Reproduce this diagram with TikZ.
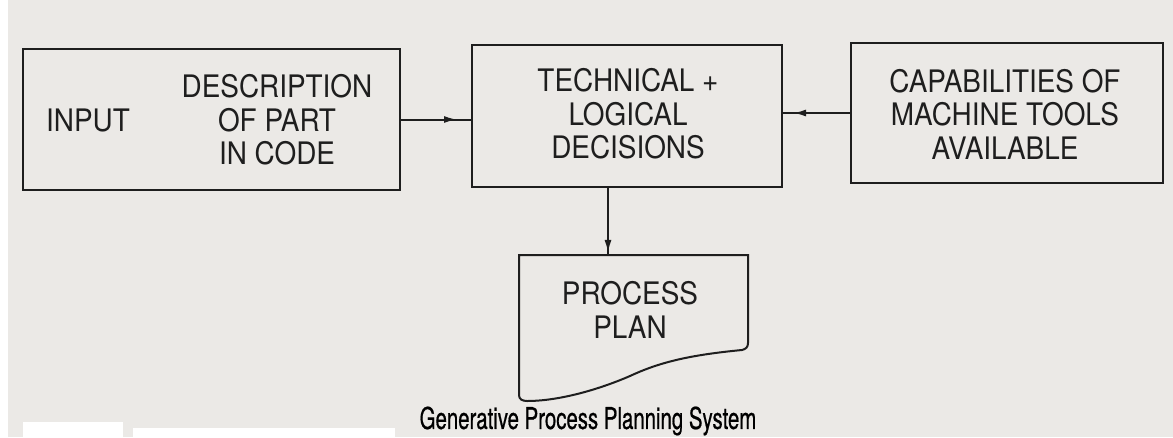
\documentclass[tikz,border=0pt]{standalone}
\usepackage{fontspec}
\usetikzlibrary{arrows.meta,decorations.markings}
\newfontfamily\boxfont{TeX Gyre Heros}[FakeStretch=0.9]
\newfontfamily\capfont{TeX Gyre Heros}[FakeStretch=0.68,FakeBold=0.6]
\definecolor{scanpaper}{RGB}{235,233,230}
\definecolor{scanink}{RGB}{30,30,30}

\begin{document}
\begin{tikzpicture}[x=1pt,y=1pt,yscale=-1,xscale=1,
	blockbox/.style={draw=scanink,line width=2pt,inner sep=0pt},
	blocktext/.style={text=scanink,align=center,inner sep=0pt,font=\boxfont\fontsize{31}{33.5}\selectfont},
	flowline/.style={draw=scanink,line width=2pt,postaction={decorate}},
	tipat/.style={decoration={markings,mark=at position #1 with {\arrow[scanink]{Latex[length=13pt,width=7pt]}}}}]
	\useasboundingbox (0,0) rectangle (1173,437);
	
	%Paper of the scan
	\fill[scanpaper] (0,0) rectangle (1173,437);
	\fill[white] (0,0) rectangle (8,437);
	\fill[white] (23,422) rectangle (123,437);
	\fill[white] (133,428) rectangle (395,437);
	
	%Shape: Rectangle [input]
	\node[blockbox,minimum width=377pt,minimum height=141pt] (in) at (211.5,119.5) {};
	% Text Node
	\node[blocktext] (inlabel) at (88,120) {INPUT};
	% Text Node
	\node[blocktext] (desc) at (277,120) {DESCRIPTION\\OF PART\\IN CODE};
	
	%Shape: Rectangle [decisions]
	\node[blockbox,minimum width=310pt,minimum height=142pt] (logic) at (627,116) {};
	% Text Node
	\node[blocktext] (logiclabel) at (628,114) {TECHNICAL +\\LOGICAL\\DECISIONS};
	
	%Shape: Rectangle [machine tools]
	\node[blockbox,minimum width=312pt,minimum height=140pt] (cap) at (1007,113) {};
	% Text Node
	\node[blocktext] (caplabel) at (1005,114) {CAPABILITIES OF\\MACHINE TOOLS\\AVAILABLE};
	
	%Shape: Document [process plan]
	\draw[scanink,line width=2pt] (519,255) -- (748,255) -- (748,343) .. controls (748,347) and (746,349) .. (742,350) .. controls (690,355) and (660,362) .. (630,376) .. controls (600,389) and (560,401) .. (527,401) .. controls (522,401) and (519,399) .. (519,395) -- cycle ;
	\coordinate (plantop) at (608,255);
	% Text Node
	\node[blocktext] (plan) at (630,310) {PROCESS\\PLAN};
	
	%Lines
	\path[flowline,tipat=0.8] (in.east) -- (in.east -| logic.west);
	\path[flowline,tipat=0.85] (cap.west) -- (cap.west -| logic.east);
	\path[flowline,tipat=0.97] (logic.south -| plantop) -- (plantop);
	
	% Text Node
	\node[text=black,inner sep=0pt,font=\capfont\fontsize{30}{32}\selectfont] (caption) at (588,421) {Generative Process Planning System};
	
\end{tikzpicture}
\end{document}
